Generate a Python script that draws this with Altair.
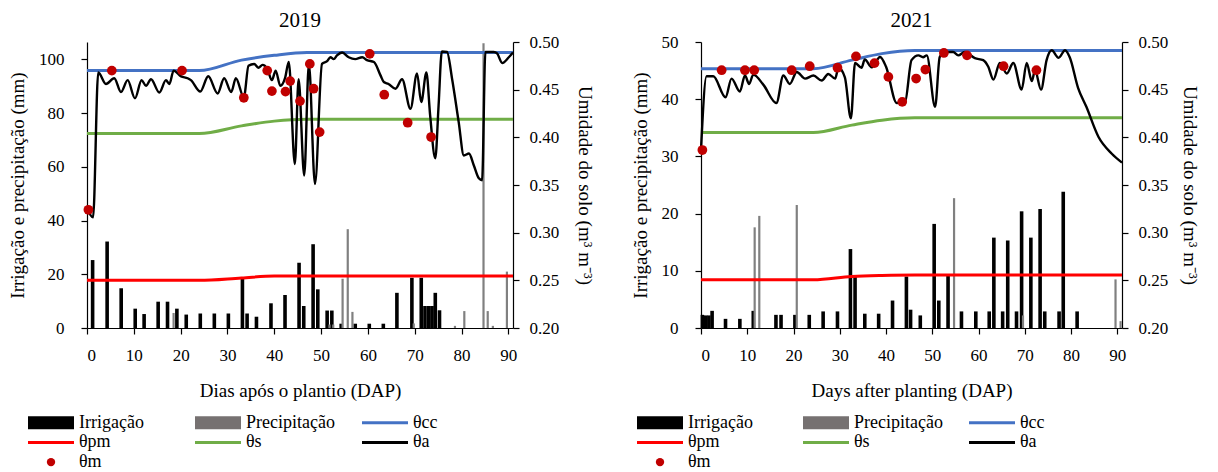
import altair as alt
import pandas as pd

FONT = "Liberation Serif"

# ---------------- 2019 ----------------
irr19_day = [1.2, 4.3, 7.3, 10.3, 12.2, 15.2, 17.2, 19.2, 21.2, 24.2, 27.2, 30.2, 33.2, 34.2,
             36.2, 39.3, 42.3, 45.3, 46.3, 48.3, 49.3, 51.3, 52.3, 54.3, 57.3, 60.3, 63.3,
             66.2, 69.4, 71.4, 72.2, 73.0, 73.7, 74.4, 75.3]
irr19_mm = [25.3, 32.2, 14.8, 7.2, 5.2, 9.8, 9.8, 7.2, 5.0, 5.4, 5.4, 5.4, 18.6, 5.4,
            4.2, 9.2, 12.3, 24.3, 8.2, 31.2, 14.4, 6.5, 6.5, 1.6, 1.6, 1.6, 1.6,
            13.1, 18.7, 18.7, 8.2, 8.2, 8.2, 13.1, 6.6]
pre19_day = [18.5, 51.8, 52.6, 54.6, 55.7, 56.7, 69.8, 78.6, 80.6, 84.7, 85.6, 86.7, 89.7]
pre19_mm = [5.6, 1.3, 1.3, 18.3, 36.8, 6.0, 1.7, 0.8, 6.3, 106.0, 6.3, 0.8, 21.0]

ref19_day = [0, 24, 33, 40, 47, 91]
cc19 = [0.470, 0.470, 0.481, 0.486, 0.489, 0.489]
s19 = [0.404, 0.404, 0.412, 0.417, 0.419, 0.419]
pm19 = [0.250, 0.250, 0.2525, 0.2545, 0.2546, 0.2546]

a19_day = [0, 1.3, 2.4, 4.05, 5.83, 7.26, 8.68, 10.25, 11.67, 12.6, 13.67, 15.45, 16.87, 17.6,
           18.5, 20.1, 21.5, 22.2, 24.2, 25.9, 27.9, 29.3, 30.8, 31.8, 33.5, 34.5, 35.7, 36.6,
           37.5, 38.5, 39.5, 40.3, 41.3, 42.3, 43.1, 44.4, 45.2, 46.4, 47.4, 48.7, 50.2, 51.3,
           52.0, 52.7, 53.4, 54.5, 55.9, 57.3, 58.8, 59.8, 61.3, 62.7, 63.4, 64.4, 65.9, 67.3,
           69.1, 70.5, 71.4, 72.5, 73.3, 74.4, 75.1, 75.8, 76.9, 78.0, 79.4, 80.5, 81.6, 82.6,
           83.7, 84.4, 85.1, 86.9, 87.6, 88.7, 90.1, 91.0]
a19 = [0.325, 0.316, 0.468, 0.456, 0.462, 0.4475, 0.460, 0.441, 0.460, 0.454, 0.461, 0.447, 0.460, 0.456,
       0.470, 0.464, 0.462, 0.460, 0.448, 0.464, 0.446, 0.462, 0.4475, 0.462, 0.442, 0.475, 0.477, 0.473,
       0.476, 0.472, 0.460, 0.470, 0.454, 0.462, 0.479, 0.372, 0.461, 0.360, 0.477, 0.351, 0.477, 0.480,
       0.484, 0.482, 0.486, 0.489, 0.484, 0.482, 0.484, 0.481, 0.479, 0.465, 0.458, 0.456, 0.451, 0.461,
       0.430, 0.467, 0.437, 0.468, 0.423, 0.378, 0.433, 0.490, 0.4895, 0.461, 0.416, 0.381, 0.383, 0.371,
       0.357, 0.355, 0.4895, 0.4895, 0.488, 0.478, 0.484, 0.489]

m19_day = [0.3, 5.3, 20.3, 33.5, 38.5, 39.5, 42.4, 43.4, 45.5, 47.6, 48.4, 49.7, 60.4, 63.5, 68.5, 73.5]
m19 = [0.324, 0.470, 0.470, 0.4415, 0.470, 0.4485, 0.448, 0.459, 0.438, 0.477, 0.451, 0.4055,
       0.4876, 0.4447, 0.4153, 0.4003]

# ---------------- 2021 ----------------
irr21_day = [0.3, 1.0, 1.7, 2.4, 5.3, 8.4, 11.3, 16.2, 17.3, 20.3, 23.4, 26.4, 29.5, 32.3, 33.3,
             35.4, 38.4, 41.4, 44.4, 45.3, 47.4, 50.4, 51.4, 53.4, 56.3, 59.4, 62.3, 63.3, 65.2,
             66.3, 68.2, 69.3, 71.3, 73.3, 74.3, 77.4, 78.3, 81.3]
irr21_mm = [2.3, 2.2, 2.2, 3.0, 1.6, 1.6, 3.0, 2.3, 2.3, 2.3, 2.3, 2.9, 2.9, 13.8, 9.2,
            2.5, 2.5, 4.8, 9.0, 3.2, 2.2, 18.2, 4.8, 9.1, 2.9, 2.9, 2.9, 15.8, 2.9,
            15.3, 2.9, 20.4, 15.8, 20.8, 2.9, 2.9, 23.8, 2.9]
pre21_day = [11.6, 12.6, 20.7, 54.7, 69.6, 89.6, 90.7]
pre21_mm = [17.6, 19.6, 21.5, 22.7, 2.2, 8.5, 1.2]

ref21_day = [0, 24.3, 32.6, 39.1, 46.2, 91]
cc21 = [0.472, 0.472, 0.481, 0.4878, 0.491, 0.491]
s21 = [0.405, 0.405, 0.4128, 0.418, 0.4205, 0.4205]
pm21 = [0.2506, 0.2506, 0.2541, 0.2552, 0.2557, 0.2557]

a21_day = [0, 1.2, 2.66, 5.3, 6.6, 8.4, 9.5, 10.4, 11.3, 13.5, 16.3, 17.8, 19.2, 20.7, 22.5, 24.3,
           26.1, 27.5, 29.0, 29.7, 31.1, 32.4, 33.3, 34.7, 35.4, 36.9, 38.7, 40.0, 42.3, 44.1, 45.5,
           47.0, 48.0, 48.8, 50.6, 51.6, 52.7, 54.5, 55.6, 57.0, 59.2, 61.0, 62.1, 63.2, 64.6, 66.1,
           67.5, 69.3, 70.4, 71.5, 72.2, 73.5, 74.7, 75.8, 77.3, 78.7, 79.7, 81.5, 83.3, 85.9, 88.8, 91.0]
a21 = [0.387, 0.464, 0.464, 0.442, 0.4616, 0.448, 0.4648, 0.456, 0.4658, 0.455, 0.436, 0.4648, 0.456,
       0.4686, 0.4616, 0.4648, 0.4596, 0.4665, 0.4616, 0.473, 0.463, 0.420, 0.478, 0.473, 0.4816, 0.4735,
       0.4843, 0.474, 0.436, 0.437, 0.481, 0.486, 0.484, 0.486, 0.432, 0.4843, 0.4895, 0.4895, 0.486,
       0.4895, 0.483, 0.481, 0.474, 0.4605, 0.478, 0.467, 0.478, 0.450, 0.478, 0.459, 0.4703, 0.450,
       0.481, 0.4913, 0.4835, 0.4913, 0.484, 0.452, 0.432, 0.4006, 0.3828, 0.3735]

m21_day = [0.3, 4.46, 9.5, 11.5, 19.6, 23.5, 29.5, 33.5, 37.5, 40.5, 43.5, 46.5, 48.5, 52.5, 57.5,
           65.4, 72.5]
m21 = [0.3867, 0.4704, 0.4704, 0.4704, 0.4704, 0.4746, 0.473, 0.4849, 0.4778, 0.4634, 0.4372,
       0.4617, 0.4711, 0.4885, 0.486, 0.4746, 0.4704]

# ---------------- legend ----------------
leg_label = ["Irrigação", "Precipitação", "θcc", "θpm", "θs", "θa", "θm"]
leg_col = [0, 1, 2, 0, 1, 2, 0]
leg_row = [0, 0, 0, 1, 1, 1, 2]
leg_kind = ["bar", "bar", "line", "line", "line", "line", "dot"]
leg_color = ["#000000", "#767171", "#4472C4", "#FF0000", "#70AD47", "#000000", "#C00000"]

ref_names = ["θcc", "θs", "θpm"]
ref_colors = ["#4472C4", "#70AD47", "#FF0000"]


def make_panel(title, xtitle, irr_day, irr_mm, pre_day, pre_mm, ref_day, cc, s, pm,
               a_day, a, m_day, m, ymax, yticks, width, height, rtitle_pad):
    xscale = alt.Scale(domain=[0, 91], nice=False, zero=False, padding=0)
    xaxis = alt.Axis(values=list(range(0, 91, 10)), title=xtitle, labelPadding=13,
                     titlePadding=18)
    yl_scale = alt.Scale(domain=[0, ymax], nice=False)
    yl_axis = alt.Axis(values=yticks, title="Irrigação e precipitação (mm)", orient="left",
                       labelPadding=17, titlePadding=11)
    yr_scale = alt.Scale(domain=[0.2, 0.5], nice=False, zero=False)
    yr_axis = alt.Axis(values=[0.20, 0.25, 0.30, 0.35, 0.40, 0.45, 0.50], format=".2f",
                       title="Umidade do solo (m³ m⁻³)", orient="right",
                       labelPadding=10, titlePadding=rtitle_pad)

    irr_df = pd.DataFrame({"day": irr_day, "mm": irr_mm})
    pre_df = pd.DataFrame({"day": pre_day, "mm": pre_mm})
    irr = alt.Chart(irr_df).mark_bar(size=3.6, color="#000000").encode(
        x=alt.X("day:Q", scale=xscale, axis=xaxis),
        y=alt.Y("mm:Q", scale=yl_scale, axis=yl_axis))
    pre = alt.Chart(pre_df).mark_bar(size=2.2, color="#808080").encode(
        x=alt.X("day:Q", scale=xscale, axis=xaxis),
        y=alt.Y("mm:Q", scale=yl_scale, axis=yl_axis))
    bars = alt.layer(irr, pre)

    n = len(ref_day)
    ref_df = pd.DataFrame({
        "day": ref_day * 3,
        "theta": cc + s + pm,
        "serie": [ref_names[0]] * n + [ref_names[1]] * n + [ref_names[2]] * n,
    })
    refl = alt.Chart(ref_df).mark_line(strokeWidth=3, interpolate="monotone").encode(
        x=alt.X("day:Q", scale=xscale, axis=xaxis),
        y=alt.Y("theta:Q", scale=yr_scale, axis=yr_axis),
        color=alt.Color("serie:N", scale=alt.Scale(domain=ref_names, range=ref_colors), legend=None),
        detail="serie:N")
    a_df = pd.DataFrame({"day": a_day, "theta": a})
    aline = alt.Chart(a_df).mark_line(strokeWidth=2.4, color="#000000", interpolate="monotone").encode(
        x=alt.X("day:Q", scale=xscale, axis=xaxis),
        y=alt.Y("theta:Q", scale=yr_scale, axis=yr_axis))
    m_df = pd.DataFrame({"day": m_day, "theta": m})
    mpts = alt.Chart(m_df).mark_point(filled=True, size=95, opacity=1, color="#C00000").encode(
        x=alt.X("day:Q", scale=xscale, axis=xaxis),
        y=alt.Y("theta:Q", scale=yr_scale, axis=yr_axis))
    lines = alt.layer(refl, aline, mpts)

    return alt.layer(bars, lines).resolve_scale(y="independent").properties(
        width=width, height=height,
        title=alt.TitleParams(title, font=FONT, fontSize=21, fontWeight="normal", color="black",
                              anchor="middle", frame="group", offset=2))


def make_legend(width, start_px, step_px):
    df = pd.DataFrame({"label": leg_label, "col": leg_col, "row": leg_row, "kind": leg_kind})
    sym = 46.0 / step_px
    lo = -start_px / step_px
    xs = alt.Scale(domain=[lo, lo + width / step_px], nice=False, zero=False)
    ys = alt.Scale(domain=[-0.5, 2.35], reverse=True, nice=False, zero=False)
    color = alt.Color("label:N", scale=alt.Scale(domain=leg_label, range=leg_color), legend=None)
    base = alt.Chart(df).transform_calculate(
        xe=f"datum.col + {sym}", xt=f"datum.col + {sym + 5.0 / step_px}", xm=f"datum.col + {sym / 2}")
    yenc = alt.Y("row:Q", scale=ys, axis=None)
    bars = base.transform_filter("datum.kind == 'bar'").mark_rule(strokeWidth=13, strokeCap="butt").encode(
        x=alt.X("col:Q", scale=xs, axis=None), x2="xe:Q", y=yenc, color=color)
    lines = base.transform_filter("datum.kind == 'line'").mark_rule(strokeWidth=3, strokeCap="butt").encode(
        x=alt.X("col:Q", scale=xs, axis=None), x2="xe:Q", y=yenc, color=color)
    dots = base.transform_filter("datum.kind == 'dot'").mark_point(filled=True, size=70, opacity=1).encode(
        x=alt.X("xm:Q", scale=xs, axis=None), y=yenc, color=color)
    texts = base.mark_text(align="left", baseline="middle", font=FONT, fontSize=18, color="black").encode(
        x=alt.X("xt:Q", scale=xs, axis=None), y=yenc, text="label:N")
    return alt.layer(bars, lines, dots, texts).properties(width=width, height=56)


p19 = make_panel("2019", "Dias após o plantio (DAP)", irr19_day, irr19_mm, pre19_day, pre19_mm,
                 ref19_day, cc19, s19, pm19, a19_day, a19, m19_day, m19,
                 106.5, [0, 20, 40, 60, 80, 100], 426, 286, 16)
p21 = make_panel("2021", "Days after planting (DAP)", irr21_day, irr21_mm, pre21_day, pre21_mm,
                 ref21_day, cc21, s21, pm21, a21_day, a21, m21_day, m21,
                 50, [0, 10, 20, 30, 40, 50], 421, 286, 12)

col1 = alt.vconcat(p19, make_legend(426, -59, 167), spacing=13).resolve_scale(color="independent")
col2 = alt.vconcat(p21, make_legend(421, -64, 166), spacing=13).resolve_scale(color="independent")

chart = alt.hconcat(col1, col2, spacing=36).resolve_scale(color="independent").properties(
    padding={"left": 0, "top": 2, "right": 5, "bottom": 0}
).configure_view(stroke=None).configure_axis(
    labelFont=FONT, labelFontSize=17, labelColor="black",
    titleFont=FONT, titleFontSize=19, titleFontWeight="normal", titleColor="black",
    domainColor="black", tickColor="black", grid=False, tickSize=6,
    domainWidth=1.2, tickWidth=1.2)

chart.save("out.html", embed_options={"renderer": "svg", "actions": False})
